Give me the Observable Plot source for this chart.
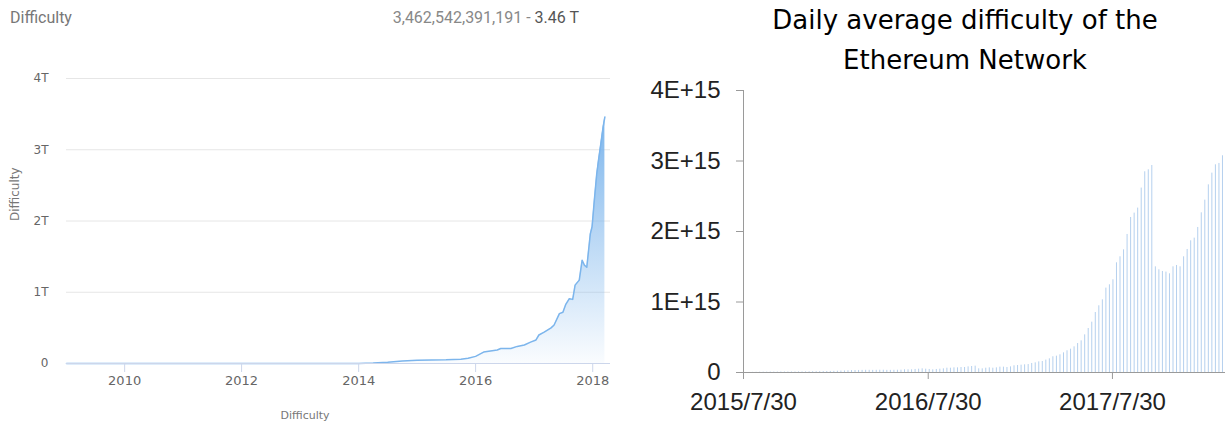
<!DOCTYPE html>
<html>
<head>
<meta charset="utf-8">
<script src="https://cdn.jsdelivr.net/npm/d3@7"></script>
<script src="https://cdn.jsdelivr.net/npm/@observablehq/plot@0.6"></script>
<style>
  body { margin: 0; background: #fff; }
  #wrap { position: relative; width: 1225px; height: 423px; overflow: hidden; background: #fff; }
  .abs { position: absolute; white-space: nowrap; }
</style>
</head>
<body>
<div id="wrap">
  <div id="left" class="abs" style="left:0;top:0"></div>
  <div id="right" class="abs" style="left:620px;top:0"></div>
  <div class="abs" style="left:10px;top:8px;font:16px Roboto;color:#777">Difficulty</div>
  <div class="abs" style="right:646px;top:8px;font:16px Roboto;color:#888">3,462,542,391,191 - <span style="color:#555">3.46 T</span></div>
  <div class="abs" style="left:250px;width:110px;top:409px;text-align:center;font:11px 'DejaVu Sans';color:#777">Difficulty</div>
  <div class="abs" style="left:765px;width:400px;top:0px;text-align:center;font:26px 'DejaVu Sans';line-height:40px;color:#000">Daily average difficulty of the<br>Ethereum Network</div>
</div>
<script>
// ---- Left chart: Bitcoin difficulty (T) ----
const btcDates = ["2009-01-03","2010-01-01","2011-01-01","2012-01-01","2013-01-01","2013-07-01",
  "2014-01-01","2014-04-01","2014-07-01","2014-10-01","2015-01-01","2015-04-01","2015-07-01",
  "2015-10-01","2015-11-15","2016-01-01","2016-02-20","2016-05-15","2016-06-06","2016-08-08",
  "2016-09-17","2016-10-31","2016-12-09","2017-01-12","2017-01-30","2017-03-04","2017-04-16",
  "2017-05-05","2017-06-07","2017-06-29","2017-07-17","2017-08-08","2017-08-29","2017-09-13",
  "2017-10-09","2017-10-27","2017-11-10","2017-11-25","2017-12-17","2017-12-28","2018-01-11",
  "2018-01-26","2018-02-06","2018-02-21","2018-03-07","2018-03-18"];
const btcValues = [0,0,0,0,0,0.00003,
  0.0015,0.006,0.017,0.035,0.044,0.049,0.052,
  0.06,0.075,0.10,0.16,0.19,0.21,0.21,
  0.24,0.26,0.30,0.33,0.40,0.44,0.50,
  0.54,0.70,0.72,0.83,0.91,0.90,1.10,
  1.17,1.45,1.38,1.35,1.82,1.92,2.29,
  2.66,2.85,3.09,3.32,3.46];
const btcYTicks = [0, 1, 2, 3, 4];
const btcXTicks = ["2010-01-01","2012-01-01","2014-01-01","2016-01-01","2018-01-01"];
const btcXDomain = ["2009-01-03","2018-04-22"];

// ---- Right chart: Ethereum daily average difficulty (E+15) ----
const ethFirstDate = "2015-08-10";
const ethStepDays = 7;
const ethValues = [
  0.001,0.002,0.003,0.004, 0.005,0.005,0.006,0.006, 0.006,0.007,0.007,0.007,0.007,
  0.007,0.008,0.008,0.009, 0.010,0.011,0.011,0.012,0.013, 0.014,0.015,0.016,0.018,
  0.020,0.022,0.025,0.027, 0.028,0.029,0.030,0.031,0.031, 0.030,0.031,0.032,0.032,
  0.030,0.030,0.031,0.032,
  0.033,0.038,0.038,0.038,0.043,0.047,0.052,0.047,0.043,0.038,0.043,0.047,0.052,0.061,
  0.061,0.066,0.066,0.071,0.071,0.080,0.085,0.090,0.052,0.052,0.061,0.066,0.061,0.066,
  0.076,0.076,0.071,0.080,0.095,0.099,0.104,0.109,0.113,0.128,0.137,0.151,
  0.156,0.176,0.194,0.223,0.232,0.251,0.279,0.308,0.331,0.364,0.411,0.449,0.534,0.624,
  0.714,0.851,0.946,1.031,1.197,1.244,1.315,1.556,1.641,1.740,1.958,2.199,2.261,2.332,
  2.616,2.847,2.875,2.936,1.499,1.457,1.433,1.424,1.400,1.499,1.518,1.499,1.641,1.745,
  1.868,1.906,2.057,2.265,2.445,2.662,2.828,2.946,2.965,3.074];
const ethYTicks = [0, 1, 2, 3, 4];
const ethXTicks = ["2015-07-30","2016-07-30","2017-07-30"];
const ethXDomain = ["2015-07-30","2018-03-11"];

const parse = s => new Date(s + "T00:00:00Z");

// ----- build left -----
const btc = btcDates.map((d, i) => ({date: parse(d), value: btcValues[i]}));
const left = Plot.plot({
  width: 620, height: 423,
  marginLeft: 66, marginRight: 10, marginTop: 78, marginBottom: 60,
  x: {type: "utc", domain: btcXDomain.map(parse)},
  y: {domain: [0, 4]},
  style: {fontFamily: "'DejaVu Sans'", background: "transparent", color: "#666"},
  marks: [
    Plot.gridY(btcYTicks, {stroke: "#e6e6e6", strokeOpacity: 1}),
    Plot.areaY(btc, {x: "date", y: "value", fill: "url(#btcGrad)"}),
    Plot.lineY(btc, {x: "date", y: "value", stroke: "#7cb5ec", strokeWidth: 1.5}),
    Plot.ruleY([0], {stroke: "#ccd6eb"}),
    Plot.axisY(btcYTicks, {tickSize: 0, tickPadding: 18, fontSize: 12, fill: "#666",
      tickFormat: d => d === 0 ? "0" : d + "T", label: null}),
    Plot.axisX(btcXTicks.map(parse), {tickSize: 9, tickPadding: 3, fontSize: 13, stroke: "#ccd6eb", fill: "#666",
      tickFormat: d3.utcFormat("%Y"), label: null}),
    Plot.text(["Difficulty"], {frameAnchor: "left", dx: -51, rotate: -90, text: d => d, fontSize: 12, fill: "#777"})
  ]
});
const defs = document.createElementNS("http://www.w3.org/2000/svg", "defs");
defs.innerHTML = '<linearGradient id="btcGrad" x1="0" y1="0" x2="0" y2="1">' +
  '<stop offset="0" stop-color="#7cb5ec" stop-opacity="1"/>' +
  '<stop offset="1" stop-color="#7cb5ec" stop-opacity="0.04"/></linearGradient>';
left.prepend(defs);
document.getElementById("left").append(left);

// ----- build right -----
const ethStart = parse(ethFirstDate);
const eth = ethValues.map((v, i) => ({date: d3.utcDay.offset(ethStart, i * ethStepDays), value: v}));
const xd = ethXDomain.map(parse);
const right = Plot.plot({
  width: 605, height: 423,
  marginLeft: 123, marginRight: 0, marginTop: 90, marginBottom: 51,
  x: {type: "utc", domain: xd},
  y: {domain: [0, 4]},
  style: {fontFamily: "'Liberation Sans'", fontSize: "24px", background: "transparent", color: "#222"},
  marks: [
    Plot.ruleX(eth, {x: "date", y: "value", stroke: "#b5d0ee", strokeWidth: 1}),
    Plot.ruleY([0], {stroke: "#9a9a9a"}),
    Plot.ruleX([xd[0]], {stroke: "#9a9a9a"}),
    Plot.axisY(ethYTicks, {tickSize: 7, tickPadding: 16, stroke: "#9a9a9a", fill: "#222", fontSize: 24,
      tickFormat: d => d === 0 ? "0" : d + "E+15", label: null}),
    Plot.axisX(ethXTicks.map(parse), {tickSize: 7, tickPadding: 13, stroke: "#9a9a9a", fill: "#222", fontSize: 24,
      tickFormat: d3.utcFormat("%Y/%-m/%-d"), label: null})
  ]
});
document.getElementById("right").append(right);
</script>
</body>
</html>
